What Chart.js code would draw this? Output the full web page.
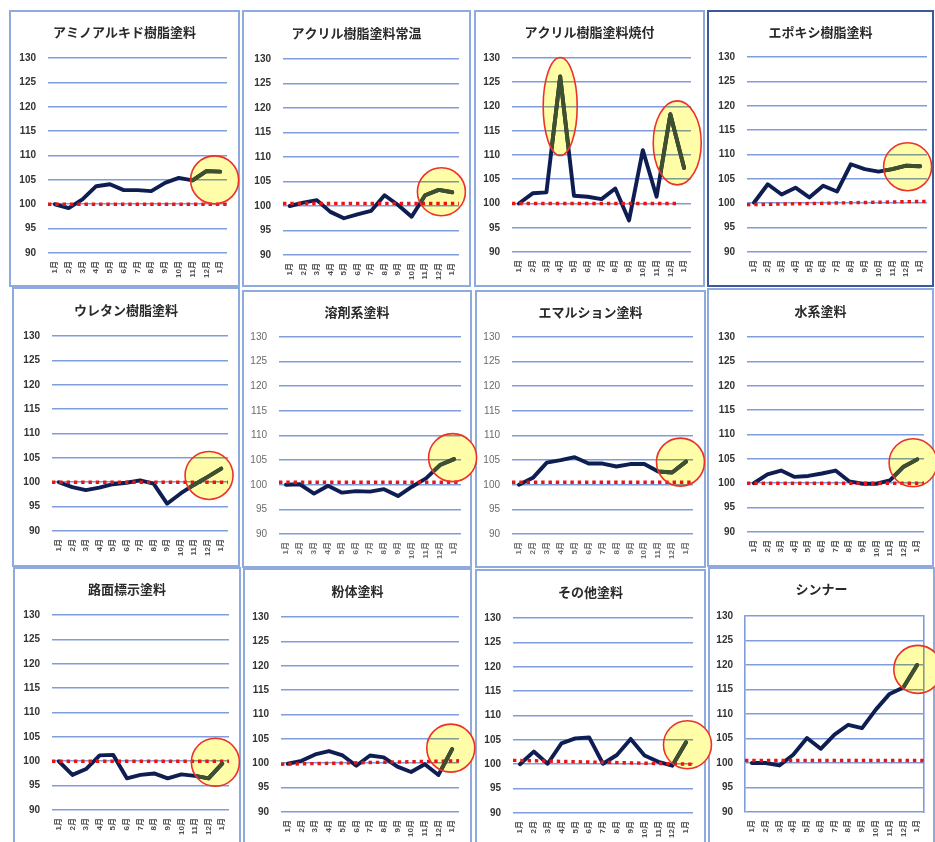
<!DOCTYPE html>
<html lang="ja">
<head>
<meta charset="utf-8">
<title>塗料 品目別 指数推移</title>
<script src="https://cdn.jsdelivr.net/npm/chart.js@4/dist/chart.umd.min.js"></script>
<style>
  html, body { margin: 0; padding: 0; background: #ffffff; }
  #board { position: relative; width: 935px; height: 842px; overflow: hidden; background: #ffffff; }
  .panel { position: absolute; box-sizing: border-box; border: 2px solid rgb(143,170,220); background: #ffffff; }
  .panel.dark { border-color: rgb(60,90,155); }
  canvas.chart { position: absolute; }
</style>
</head>
<body>
<div id="board"></div>
<script>
// ---- data ----
const months = ['1月','2月','3月','4月','5月','6月','7月','8月','9月','10月','11月','12月','1月'];

const titles = [
  'アミノアルキド樹脂塗料', 'アクリル樹脂塗料常温', 'アクリル樹脂塗料焼付', 'エポキシ樹脂塗料',
  'ウレタン樹脂塗料', '溶剤系塗料', 'エマルション塗料', '水系塗料',
  '路面標示塗料', '粉体塗料', 'その他塗料', 'シンナー'
];

const aminoAlkyd     = [100, 99.2, 101.0, 103.7, 104.1, 102.9, 102.9, 102.7, 104.4, 105.4, 104.9, 106.8, 106.7];
const acrylicAmbient = [100, 100.7, 101.2, 98.8, 97.5, 98.3, 99.0, 102.2, 100.2, 97.8, 102.2, 103.3, 102.8];
const acrylicBaking  = [100, 102.1, 102.3, 126.2, 101.6, 101.4, 100.9, 103.1, 96.5, 111.0, 101.4, 118.4, 107.3];
const epoxy          = [100.1, 103.9, 101.8, 103.2, 101.2, 103.6, 102.4, 108.0, 107.0, 106.5, 107.0, 107.7, 107.6];
const urethane       = [100, 99.0, 98.4, 98.9, 99.6, 99.9, 100.4, 99.7, 95.6, 97.7, 99.5, 101.1, 102.8];
const solventBased   = [100, 100.1, 98.2, 99.8, 98.4, 98.7, 98.6, 99.1, 97.7, 99.6, 101.3, 104.0, 105.2];
const emulsion       = [100, 101.4, 104.5, 105.0, 105.6, 104.3, 104.3, 103.7, 104.2, 104.2, 102.7, 102.5, 104.7];
const waterBased     = [100, 101.8, 102.6, 101.3, 101.5, 102.0, 102.6, 100.4, 99.9, 99.9, 100.6, 103.4, 104.9];
const roadMarking    = [100, 97.2, 98.4, 101.2, 101.3, 96.5, 97.2, 97.5, 96.5, 97.3, 97.0, 96.5, 99.5];
const powder         = [99.9, 100.5, 101.8, 102.5, 101.6, 99.5, 101.6, 101.2, 99.3, 98.2, 99.8, 97.6, 102.9];
const otherPaints    = [100, 102.6, 100.1, 104.3, 105.3, 105.5, 100.1, 101.9, 105.2, 101.8, 100.5, 99.7, 104.5];
const thinner        = [100, 100.0, 99.5, 101.7, 105.1, 102.9, 105.8, 107.8, 107.1, 110.9, 114.1, 115.4, 120.0];

const seriesList = [aminoAlkyd, acrylicAmbient, acrylicBaking, epoxy, urethane, solventBased,
                    emulsion, waterBased, roadMarking, powder, otherPaints, thinner];

// 基準線 (100 line): value at the left end, value at its last month, and that month's index
const baselineStart = [100, 100.5, 100, 99.7, 100, 100.5, 100.5, 100, 100, 99.8, 100.8, 100.5];
const baselineEnd   = [100, 100.5, 100, 100.4, 100, 100.5, 100.5, 100, 100, 100.5, 100.0, 100.5];
const baselineLast  = [12, 12, 11, 12, 12, 12, 12, 12, 12, 12, 12, 12];

// y axis range and tick step
const yMin = 90, yMax = 130, yStep = 5;

// highlighted months: centre month index (may fall between months) and index level
const highlights = [
  [{ at: 11.6, value: 105.0 }],
  [{ at: 11.2, value: 102.9 }],
  [{ at: 3.0, value: 120.0, rx: 17, ry: 49 }, { at: 11.5, value: 112.5, rx: 24, ry: 42 }],
  [{ at: 11.1, value: 107.5 }],
  [{ at: 11.1, value: 101.4 }],
  [{ at: 11.9, value: 105.5 }],
  [{ at: 11.6, value: 104.6 }],
  [{ at: 11.7, value: 104.2 }],
  [{ at: 11.5, value: 99.8 }],
  [{ at: 11.9, value: 103.1 }],
  [{ at: 12.1, value: 104.0 }],
  [{ at: 12.05, value: 119.1 }]
];

// ---- layout: panel box [x, y, w, h], plot box [left, right, top, bottom], title centre y ----
const panelBoxes = [
  [9, 10, 231, 277], [242, 10, 229, 277], [474, 10, 231, 277], [707, 10, 227, 277],
  [12, 287, 228, 280], [242, 290, 230, 278], [475, 290, 231, 278], [707, 288, 227, 279],
  [13, 567, 228, 278], [243, 568, 229, 277], [475, 569, 231, 276], [708, 567, 227, 278]
];
const plotBoxes = [
  [48, 227, 58, 253], [283, 459, 59, 255], [512, 691, 58, 252], [747, 927, 57, 252],
  [52, 228, 336, 531], [279, 461, 337, 534], [512, 693, 337, 534], [747, 924, 337, 532],
  [52, 229, 615, 810], [281, 459, 617, 812], [513, 693, 618, 813], [745, 924, 616, 812]
];
const titleCentres = [32, 33, 32, 32, 310, 312, 312, 311, 589, 591, 592, 589];
const lightTickPanels = [5, 6];
const framedPanels = [11];
const darkBorderPanels = [3];

const MARGIN = 30;
const TITLE_SIZE = 13;
const TITLE_LH = TITLE_SIZE * 1.2;
const LINE_WIDTH = 3.9;
const GRID_BLUE = 'rgb(126,157,218)';
const NAVY = 'rgb(14,30,82)';
const OLIVE = 'rgb(62,80,48)';
const RED = 'rgb(235,20,20)';

function baselineData(i) {
  const arr = months.map(() => null);
  arr[0] = baselineStart[i];
  arr[baselineLast[i]] = baselineEnd[i];
  return arr;
}

// yellow highlight ovals; the part of the line inside them is redrawn in olive
const highlightPlugin = {
  id: 'highlightMarks',
  afterDatasetsDraw(chart, args, opts) {
    const marks = opts.marks || [];
    const { ctx } = chart;
    const xs = chart.scales.x, ys = chart.scales.y;
    const meta = chart.getDatasetMeta(opts.lineIndex);
    marks.forEach(m => {
      const cx = xs.getPixelForValue(m.at);
      const cy = ys.getPixelForValue(m.value);
      const rx = m.rx || 24, ry = m.ry || 24;
      ctx.save();
      ctx.beginPath();
      ctx.ellipse(cx, cy, rx, ry, 0, 0, Math.PI * 2);
      ctx.globalCompositeOperation = 'multiply';
      ctx.fillStyle = 'rgb(255,253,168)';
      ctx.fill();
      ctx.globalCompositeOperation = 'source-over';
      ctx.clip();
      ctx.beginPath();
      meta.data.forEach((pt, i) => { if (i === 0) ctx.moveTo(pt.x, pt.y); else ctx.lineTo(pt.x, pt.y); });
      ctx.strokeStyle = OLIVE;
      ctx.lineWidth = LINE_WIDTH;
      ctx.lineJoin = 'round';
      ctx.lineCap = 'round';
      ctx.stroke();
      ctx.restore();

      ctx.save();
      ctx.beginPath();
      ctx.ellipse(cx, cy, rx, ry, 0, 0, Math.PI * 2);
      ctx.strokeStyle = 'rgb(236,50,40)';
      ctx.lineWidth = 1.6;
      ctx.stroke();
      ctx.restore();
    });
  }
};

const board = document.getElementById('board');

// panel frames first, so that ovals overflowing a chart stay visible on top of neighbours
panelBoxes.forEach(([px, py, pw, ph], i) => {
  const frame = document.createElement('div');
  frame.className = 'panel' + (darkBorderPanels.includes(i) ? ' dark' : '');
  Object.assign(frame.style, { left: px + 'px', top: py + 'px', width: pw + 'px', height: ph + 'px' });
  board.appendChild(frame);
});

seriesList.forEach((values, i) => {
  const [px, py, pw, ph] = panelBoxes[i];
  const [gl, gr, gt, gb] = plotBoxes[i];
  const ty = titleCentres[i];
  const light = lightTickPanels.includes(i);
  const framed = framedPanels.includes(i);

  const canvas = document.createElement('canvas');
  canvas.className = 'chart';
  const cw = pw + 2 * MARGIN, ch = ph + 2 * MARGIN;
  canvas.width = cw; canvas.height = ch;
  Object.assign(canvas.style, { left: (px - MARGIN) + 'px', top: (py - MARGIN) + 'px', width: cw + 'px', height: ch + 'px' });
  canvas.setAttribute('role', 'img');
  canvas.setAttribute('aria-label', titles[i]);
  board.appendChild(canvas);

  const titleTop = ty - py - TITLE_LH / 2;

  new Chart(canvas, {
    type: 'line',
    data: {
      labels: months,
      datasets: [
        {
          label: '基準',
          data: baselineData(i),
          xAxisID: 'x2',
          spanGaps: true,
          borderColor: RED,
          borderWidth: 3.4,
          borderDash: [3.4, 3.9],
          borderCapStyle: 'butt',
          pointRadius: 0,
          fill: false
        },
        {
          label: titles[i],
          data: values,
          borderColor: NAVY,
          borderWidth: LINE_WIDTH,
          borderJoinStyle: 'round',
          borderCapStyle: 'round',
          pointRadius: 0,
          tension: 0,
          fill: false
        }
      ]
    },
    options: {
      responsive: false,
      animation: false,
      devicePixelRatio: 1,
      layout: { padding: { left: MARGIN, right: MARGIN, top: MARGIN, bottom: MARGIN } },
      plugins: {
        legend: { display: false },
        tooltip: { enabled: false },
        title: {
          display: true,
          text: titles[i],
          color: '#2a2a2a',
          font: { family: '"Noto Sans CJK JP", sans-serif', size: TITLE_SIZE, weight: 'bold', lineHeight: 1.2 },
          padding: { top: titleTop, bottom: gt - ty - TITLE_LH / 2 }
        },
        highlightMarks: { marks: highlights[i], lineIndex: 1 }
      },
      scales: {
        x: {
          type: 'category',
          offset: true,
          grid: { display: false, drawTicks: false },
          border: { display: false },
          ticks: {
            autoSkip: false,
            minRotation: 90,
            maxRotation: 90,
            padding: 8,
            color: light ? '#6e6e6e' : '#505050',
            font: { family: '"Liberation Sans", "Noto Sans CJK JP", sans-serif', size: 8, weight: 'bold' }
          },
          afterFit(axis) { axis.height = py + ph - gb; }
        },
        x2: {
          type: 'category',
          labels: months,
          offset: false,
          display: false
        },
        y: {
          min: yMin,
          max: yMax,
          ticks: {
            stepSize: yStep,
            padding: 12,
            color: light ? '#6a6a6a' : '#333333',
            font: { family: '"Liberation Sans", sans-serif', size: 10, weight: light ? 'normal' : 'bold' }
          },
          grid: { color: GRID_BLUE, lineWidth: 1.6, drawTicks: false },
          border: { display: framed, color: GRID_BLUE, width: 1.6 },
          afterFit(axis) { axis.width = gl - px; }
        },
        y2: {
          position: 'right',
          min: 0,
          max: 1,
          ticks: { display: false },
          grid: { display: false, drawTicks: false },
          border: { display: framed, color: GRID_BLUE, width: 1.6 },
          afterFit(axis) { axis.width = px + pw - gr; }
        }
      }
    },
    plugins: [highlightPlugin]
  });
});
</script>
</body>
</html>
